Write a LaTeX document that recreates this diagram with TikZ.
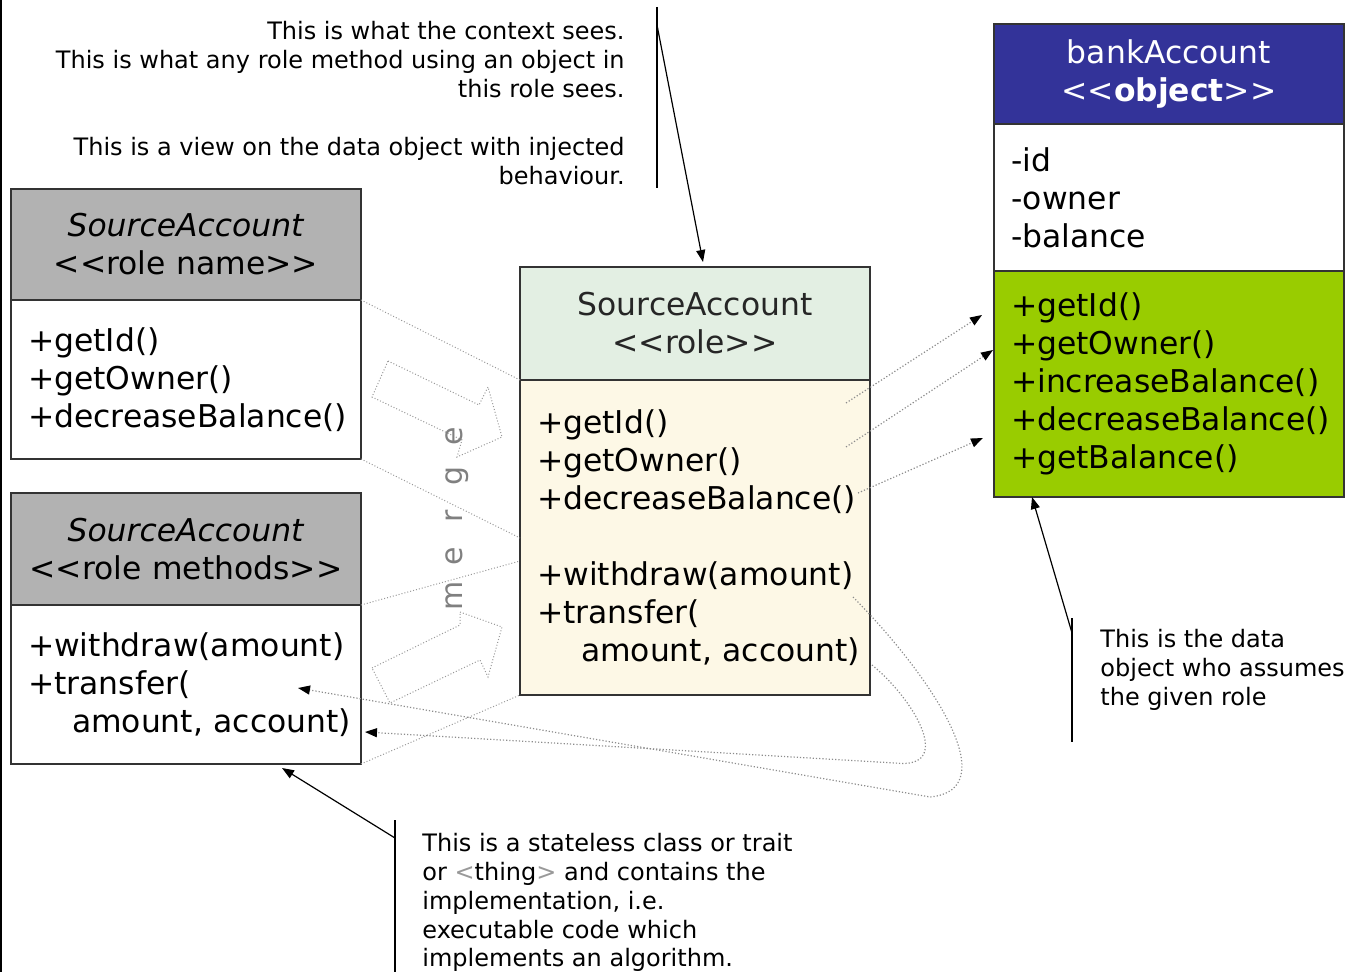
\documentclass[tikz,border=0pt]{standalone}
\usepackage{fontspec}
\usepackage{xcolor}
\usepackage{tikz}
\usetikzlibrary{arrows.meta, positioning}
\newfontfamily\umlfont{DejaVu Sans}
\newcommand\stopen{\textless\textless}
\newcommand\stclose{\textgreater\textgreater}
\definecolor{headgray}{HTML}{B2B2B2}
\definecolor{rolegreen}{HTML}{E3EFE3}
\definecolor{rolecream}{HTML}{FDF8E6}
\definecolor{objblue}{HTML}{333399}
\definecolor{objgreen}{HTML}{99CC00}

\begin{document}
\begin{tikzpicture}[x=0.5pt, y=-0.5pt,
    box/.style={draw=black!80, line width=0.6pt, minimum width=175pt, text width=158pt,
        inner xsep=8.5pt, inner ysep=0pt, outer sep=0pt, font=\umlfont\fontsize{15.7}{19}\selectfont,
        execute at begin node={\hyphenpenalty=10000\exhyphenpenalty=10000}},
    head/.style={box, align=center},
    body/.style={box, fill=white, align=left},
    note/.style={font=\umlfont\fontsize{12}{14.4}\selectfont, align=left, inner sep=0pt, anchor=north west},
    bar/.style={line width=0.6pt},
    pointer/.style={-{Triangle[length=6pt,width=4.5pt]}, line width=0.6pt},
    inject/.style={-{Triangle[length=6pt,width=4.5pt,color=black]}, densely dotted, draw=black!45, line width=0.6pt},
    seam/.style={densely dotted, draw=black!40, line width=0.5pt}
    ]
    \useasboundingbox (0,0) rectangle (1349,972);
    \draw[line width=1pt] (1,0) -- (1,972);

    % 角色名
    \node[head, fill=headgray, minimum height=55.5pt, anchor=north west] (namehead) at (11,189)
        {\textit{SourceAccount}\\\stopen role name\stclose};
    \node[body, minimum height=79.5pt, below=0pt of namehead] (namebody)
        {+getId()\\+getOwner()\\+decreaseBalance()};

    % 角色方法
    \node[head, fill=headgray, minimum height=56pt, anchor=north west] (methodhead) at (11,493)
        {\textit{SourceAccount}\\\stopen role~methods\stclose};
    \node[body, minimum height=79.5pt, below=0pt of methodhead] (methodbody)
        {+withdraw(amount)\\+transfer(\\\hspace*{22pt}amount,~account)};

    % 合并后的角色
    \node[head, fill=rolegreen, text=black!85, minimum height=56.5pt, anchor=north west] (rolehead) at (520,267)
        {SourceAccount\\\stopen role\stclose};
    \node[body, fill=rolecream, minimum height=157.5pt, below=0pt of rolehead] (rolebody)
        {+getId()\\+getOwner()\\+decreaseBalance()\\[19pt]+withdraw(amount)\\+transfer(\\\hspace*{22pt}amount,~account)};

    % 数据对象
    \node[head, fill=objblue, text=white, minimum height=50pt, anchor=north west] (objhead) at (994,24)
        {bankAccount\\\stopen\textbf{object}\stclose};
    \node[body, minimum height=73.5pt, below=0pt of objhead] (objfields)
        {-id\\-owner\\-balance};
    \node[body, fill=objgreen, minimum height=113pt, below=0pt of objfields] (objmethods)
        {+getId()\\+getOwner()\\+increaseBalance()\\+decreaseBalance()\\+getBalance()};

    % merge 虚线
    \coordinate (mergeA) at (520,538);
    \coordinate (mergeB) at (520,561);
    \draw[seam] (namebody.north east) -- (rolebody.north west);
    \draw[seam] (namebody.south east) -- (mergeA);
    \draw[seam] (methodbody.north east) -- (mergeB);
    \draw[seam] (methodbody.south east) -- (rolebody.south west);
    \draw[seam] (388,361) -- (479,405) -- (488,387) -- (502,437) -- (457,457) -- (462,440) -- (372,397) -- cycle;
    \draw[seam] (372,668) -- (460,625) -- (460,612) -- (502,627) -- (488,677) -- (480,660) -- (390,703) -- cycle;
    \node[rotate=90, anchor=base, text=black!50, inner sep=0pt, font=\umlfont\fontsize{15}{15}\selectfont] (mergelabel) at (462,516)
        {\makebox[20pt]{m}\makebox[20pt]{e}\makebox[20pt]{r}\makebox[20pt]{g}\makebox[20pt]{e}};

    % 方法注入到对象
    \coordinate (idout) at (846,403);
    \coordinate (ownerout) at (846,447);
    \coordinate (decout) at (858,493);
    \coordinate (idin) at (982,315);
    \coordinate (ownerin) at (993,350);
    \coordinate (decin) at (983,438);
    \draw[inject] (idout) -- (idin);
    \draw[inject] (ownerout) -- (ownerin);
    \draw[inject] (decout) -- (decin);

    % 回到角色方法
    \coordinate (wdout) at (853,597);
    \coordinate (wdin) at (298,688);
    \coordinate (trout) at (872,665);
    \coordinate (trin) at (365,732);
    \draw[inject] (wdout) .. controls (935,680) and (1005,790) .. (930,797) -- (wdin);
    \draw[inject] (trout) .. controls (915,700) and (955,770) .. (895,763) -- (trin);

    % 说明文字
    \node[note, font=\umlfont\fontsize{12}{14.5}\selectfont, align=right, anchor=north east] (ctxnote) at (625,21)
        {This is what the context sees.\\This is what any role method using an object in\\this role sees.\\[14.5pt]This is a view on the data object with injected\\behaviour.};
    \draw[bar] (657,7) -- (657,188);
    \coordinate (ctxfoot) at (657,25);
    \coordinate (ctxtip) at (703,262);
    \draw[pointer] (ctxfoot) -- (ctxtip);

    \node[note, font=\umlfont\fontsize{12}{14.5}\selectfont] (datanote) at (1100,629)
        {This is the data\\object who assumes\\the given role};
    \draw[bar] (1072,618) -- (1072,742);
    \coordinate (datafoot) at (1072,633);
    \coordinate (datatip) at (1032,497);
    \draw[pointer] (datafoot) -- (datatip);

    \node[note] (implnote) at (422,833)
        {This is a stateless class or trait\\or {\color{black!40}\textless}thing{\color{black!40}\textgreater} and contains the\\implementation, i.e.\\executable code which\\implements an algorithm.};
    \draw[bar] (395,820) -- (395,972);
    \coordinate (implfoot) at (395,838);
    \coordinate (impltip) at (282,768);
    \draw[pointer] (implfoot) -- (impltip);

\end{tikzpicture}
\end{document}
